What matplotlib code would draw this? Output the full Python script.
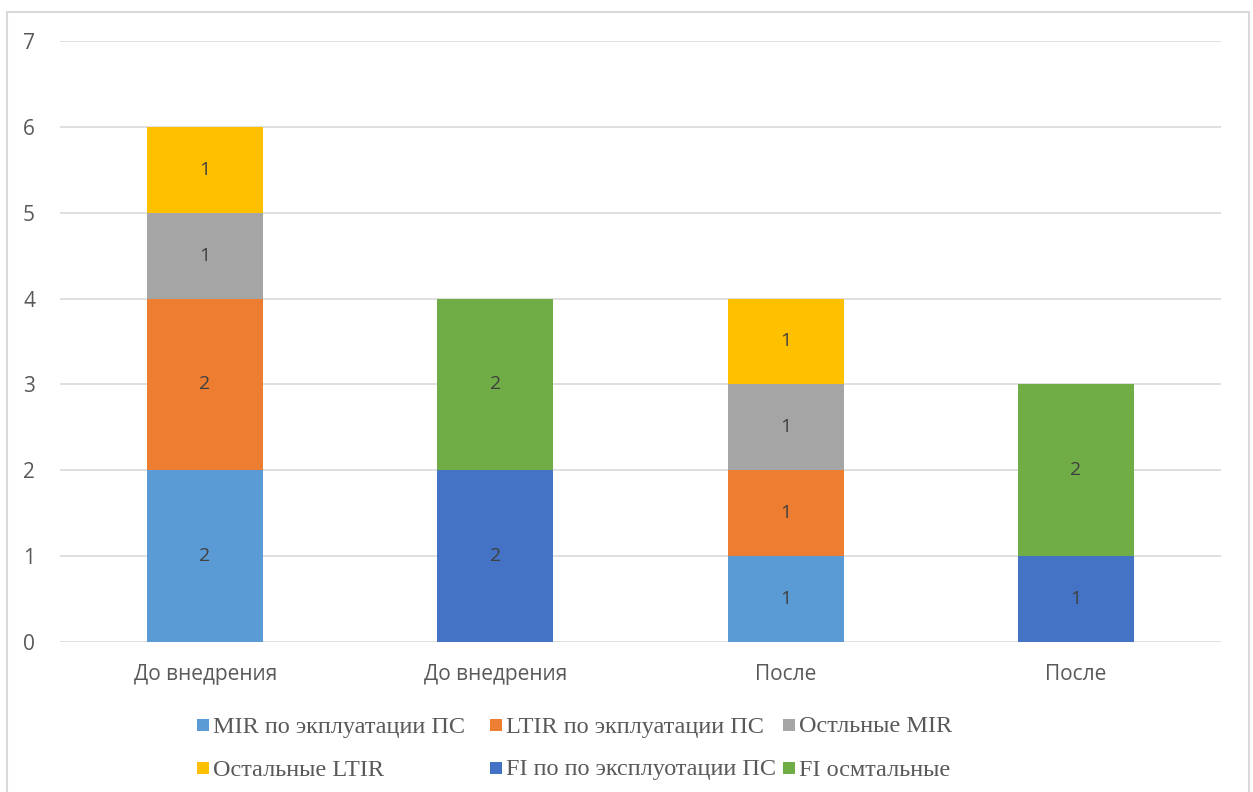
import numpy as np
import matplotlib.pyplot as plt
from matplotlib.patches import Rectangle

categories = ['До внедрения', 'До внедрения', 'После', 'После']
mir_ps = [2, 0, 1, 0]
ltir_ps = [2, 0, 1, 0]
mir_other = [1, 0, 1, 0]
ltir_other = [1, 0, 1, 0]
fi_ps = [0, 2, 0, 1]
fi_other = [0, 2, 0, 2]

series = [
    ('MIR по экплуатации ПС', mir_ps, '#5B9BD5'),
    ('LTIR по экплуатации ПС', ltir_ps, '#ED7D31'),
    ('Остльные MIR', mir_other, '#A5A5A5'),
    ('Остальные LTIR', ltir_other, '#FFC000'),
    ('FI по по эксплуотации ПС', fi_ps, '#4472C4'),
    ('FI осмтальные', fi_other, '#70AD47'),
]

grid_c = '#D9D9D9'
text_c = '#595959'
W, H = 1253, 792

fig = plt.figure(figsize=(W / 100, H / 100), dpi=100)
ax = fig.add_axes([60 / W, 1 - 642 / H, 1161 / W, 601 / H])

# chart frame
fig.patches.append(Rectangle((7 / W, -0.1), 1242 / W, 1.1 - 12 / H,
                             transform=fig.transFigure, fill=False,
                             edgecolor=grid_c, linewidth=1.5))

x = np.arange(len(categories))
bottom = np.zeros(len(categories))
for name, vals, color in series:
    vals = np.array(vals, dtype=float)
    bars = ax.bar(x, vals, width=0.4, bottom=bottom, color=color, zorder=3)
    for b, v, b0 in zip(bars, vals, bottom):
        if v > 0:
            ax.text(b.get_x() + b.get_width() / 2, b0 + v / 2, f'{int(v)}',
                    ha='center', va='center', fontsize=14, color='#404040',
                    family='Open Sans', zorder=4)
    bottom += vals

ax.set_xlim(-0.5, len(categories) - 0.5)
ax.set_ylim(0, 7)
ax.set_yticks(range(0, 8))
ax.set_xticks(x)
ax.set_xticklabels(categories)
ax.grid(axis='y', color=grid_c, linewidth=1.2, zorder=0)
for s in ax.spines.values():
    s.set_visible(False)
ax.tick_params(length=0, colors=text_c, labelsize=15)
ax.tick_params(axis='y', pad=18)
ax.tick_params(axis='x', pad=16)
for lab in ax.get_xticklabels() + ax.get_yticklabels():
    lab.set_family('Open Sans')

# legend: 3 equal-width columns, 2 rows
for i, (name, vals, color) in enumerate(series):
    row, col = divmod(i, 3)
    lx = 197 + col * 293
    ly = 727 + row * 43
    fig.patches.append(Rectangle((lx / W, 1 - (ly + 4) / H), 12 / W, 12 / H,
                                 transform=fig.transFigure, facecolor=color,
                                 edgecolor='none'))
    fig.text((lx + 16) / W, 1 - ly / H, name, ha='left', va='center',
             color=text_c, family='Liberation Serif', fontsize=17.5)

fig.savefig('out.png', dpi=100)
